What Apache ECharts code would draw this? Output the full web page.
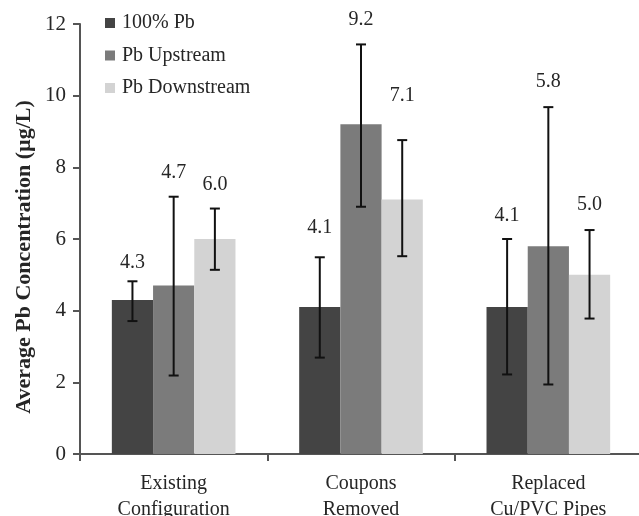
<!DOCTYPE html>
<html>
<head>
<meta charset="utf-8">
<script src="https://cdn.jsdelivr.net/npm/echarts@6/dist/echarts.min.js"></script>
<style>
  html, body { margin: 0; padding: 0; background: #fff; }
  #chart { width: 639px; height: 516px; }
</style>
</head>
<body>
<div id="chart"></div>
<script>
// Average Pb concentration by pipe configuration, with error bars
const categories = ['Existing\nConfiguration', 'Coupons\nRemoved', 'Replaced\nCu/PVC Pipes'];
const seriesNames = ['100% Pb', 'Pb Upstream', 'Pb Downstream'];

const pbFull = [4.3, 4.1, 4.1];
const pbUpstream = [4.7, 9.2, 5.8];
const pbDownstream = [6.0, 7.1, 5.0];

// error bar extents [low, high]
const pbFullErr = [[3.71, 4.82], [2.69, 5.49], [2.22, 6.0]];
const pbUpstreamErr = [[2.19, 7.18], [6.9, 11.43], [1.94, 9.68]];
const pbDownstreamErr = [[5.14, 6.85], [5.52, 8.76], [3.78, 6.25]];

const yTicks = [0, 2, 4, 6, 8, 10, 12];
const yTitle = 'Average Pb Concentration (µg/L)';

const values = [pbFull, pbUpstream, pbDownstream];
const errors = [pbFullErr, pbUpstreamErr, pbDownstreamErr];
const colors = ['#444444', '#7b7b7b', '#d3d3d3'];
const FONT = '"Liberation Serif", "DejaVu Serif", serif';
const TEXT = '#262626';
const CAT_GAP = 0.34;          // share of each category band left empty
const labelLift = [[19, 24, 24], [30, 25, 44], [23, 25, 25]]; // px above error cap

const chart = echarts.init(document.getElementById('chart'), null, { renderer: 'canvas' });

const barSeries = values.map((vals, k) => ({
  name: seriesNames[k],
  type: 'bar',
  data: vals,
  barGap: '0%',
  barCategoryGap: (CAT_GAP * 100) + '%',
  itemStyle: { color: colors[k] },
  silent: true,
  z: 2
}));

const errSeries = errors.map((errs, k) => ({
  type: 'custom',
  name: seriesNames[k] + ' err',
  data: errs.map((e, i) => [i, e[0], e[1], values[k][i]]),
  encode: { x: 0, y: [1, 2] },
  z: 5,
  silent: true,
  renderItem: function (params, api) {
    const ci = api.value(0);
    const band = api.size([1, 0])[0];
    const barW = band * (1 - CAT_GAP) / 3;
    const lowP = api.coord([ci, api.value(1)]);
    const highP = api.coord([ci, api.value(2)]);
    const x = lowP[0] + (k - 1) * barW;
    const cap = 5;
    const style = { stroke: '#111', lineWidth: 2 };
    return {
      type: 'group',
      children: [
        { type: 'line', shape: { x1: x, y1: lowP[1], x2: x, y2: highP[1] }, style },
        { type: 'line', shape: { x1: x - cap, y1: lowP[1], x2: x + cap, y2: lowP[1] }, style },
        { type: 'line', shape: { x1: x - cap, y1: highP[1], x2: x + cap, y2: highP[1] }, style },
        {
          type: 'text',
          x: x,
          y: highP[1] - labelLift[ci][k],
          style: {
            text: api.value(3).toFixed(1),
            font: '20px ' + FONT,
            fill: TEXT,
            align: 'center',
            verticalAlign: 'middle'
          }
        }
      ]
    };
  }
}));

chart.setOption({
  animation: false,
  backgroundColor: '#fff',
  grid: {
    left: 80, top: 24, width: 562, height: 430,
    containLabel: false, outerBoundsMode: 'none'
  },
  legend: {
    orient: 'vertical',
    left: 100,
    top: 7,
    itemWidth: 10,
    itemHeight: 10,
    itemGap: 10.5,
    icon: 'rect',
    data: seriesNames,
    textStyle: { fontFamily: FONT, fontSize: 20, color: TEXT, padding: [0, 0, 0, 2], lineHeight: 22 }
  },
  graphic: [{
    type: 'text',
    x: 24,
    y: 257,
    rotation: Math.PI / 2,
    style: {
      text: yTitle,
      font: 'bold 22px ' + FONT,
      fill: TEXT,
      align: 'center',
      verticalAlign: 'middle'
    }
  }],
  xAxis: {
    type: 'category',
    data: categories,
    axisLine: { lineStyle: { color: '#555', width: 2 } },
    axisTick: { show: true, length: 7, lineStyle: { color: '#555', width: 2 } },
    axisLabel: {
      fontFamily: FONT, fontSize: 20, color: TEXT,
      margin: 17, lineHeight: 25.5
    },
    splitLine: { show: false }
  },
  yAxis: {
    type: 'value',
    min: yTicks[0],
    max: yTicks[yTicks.length - 1],
    interval: 2,
    axisLine: { show: true, lineStyle: { color: '#555', width: 2 } },
    axisTick: { show: true, length: 7, lineStyle: { color: '#555', width: 2 } },
    axisLabel: { fontFamily: FONT, fontSize: 21, color: TEXT, margin: 14 },
    splitLine: { show: false }
  },
  series: barSeries.concat(errSeries)
});
</script>
</body>
</html>
